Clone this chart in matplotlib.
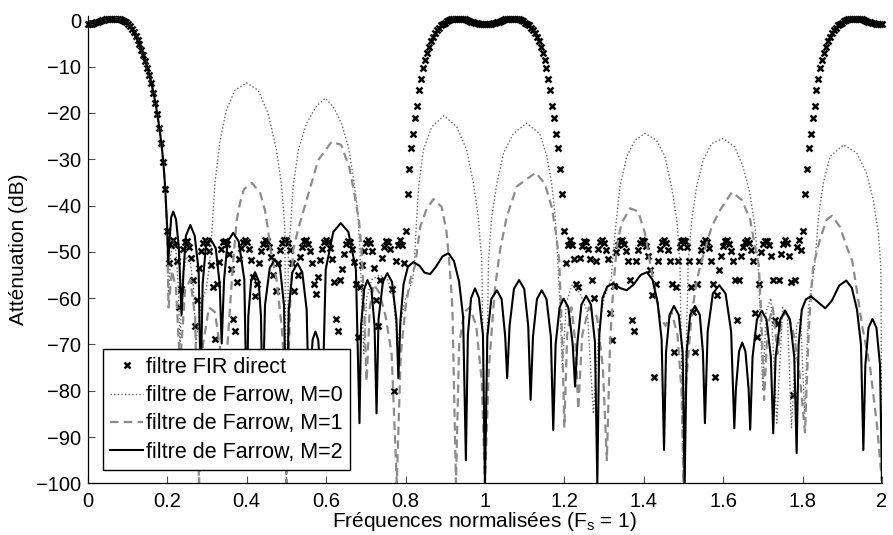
import numpy as np
import matplotlib
matplotlib.use("Agg")
import matplotlib.pyplot as plt

plt.rcParams["font.family"] = ["Liberation Sans", "DejaVu Sans"]

# ============================================================
# DONNÉES (fréquence normalisée, atténuation en dB)
# ============================================================

# filtre FIR direct : un point tous les 0.005
pas_fir = 0.005

# bande passante 0 -> 0.2
fir_bande_db = [
    -0.8, -0.75, -0.7, -0.6, -0.45, -0.3, -0.15, 0.0, 0.1, 0.2,
    0.3, 0.35, 0.4, 0.4, 0.4, 0.35, 0.25, 0.1, -0.1, -0.35,
    -0.7, -1.2, -1.8, -2.6, -3.4, -4.3, -5.2, -6.3, -7.5, -8.8,
    -10.2, -11.8, -13.6, -15.6, -17.8, -20.3, -23.2, -26.5, -30.5, -36.5,
    -45.5,
]

# bande coupée 0.205 -> 0.795
fir_coupe1_db = [
    -52.5, -48.5, -47.5, -48.6, -52.0, -62.0, -58.0, -49.4, -47.8, -47.6,
    -48.9, -51.3, -56.0, -66.0, -60.5, -53.5, -49.8, -48.0, -47.5, -48.0,
    -49.8, -52.8, -57.5, -68.9, -57.0, -52.2, -49.4, -47.9, -47.6, -48.3,
    -50.4, -53.8, -64.4, -67.2, -56.5, -51.5, -49.2, -47.9, -47.5, -47.9,
    -49.3, -51.8, -55.5, -59.5, -57.0, -52.5, -49.8, -48.2, -47.5, -47.7,
    -49.0, -51.2, -55.0, -71.6, -58.5, -52.5, -49.6, -48.1, -47.5, -47.5,
    -48.1, -49.6, -52.5, -58.5, -71.6, -55.0, -51.2, -49.0, -47.7, -47.5,
    -48.2, -49.8, -52.5, -57.0, -59.0, -55.5, -51.8, -49.3, -47.9, -47.5,
    -47.9, -49.2, -51.5, -56.5, -64.5, -67.2, -56.0, -53.8, -50.4, -48.3,
    -47.6, -47.9, -49.4, -52.2, -57.0, -68.5, -57.5, -52.8, -49.8, -48.0,
    -47.5, -48.0, -49.8, -53.5, -60.5, -66.0, -56.0, -51.3, -48.9, -47.6,
    -47.8, -49.4, -58.0, -80.0, -52.0, -48.6, -47.5, -48.5, -52.5,
]

# image autour de 1 : 0.8 -> 1.2
fir_image1_db = [
    -45.5, -37.5, -32.0, -27.5, -24.5, -21.1, -18.5, -15.1, -12.6, -10.2,
    -8.5, -7.0, -5.8, -4.5, -3.5, -2.8, -2.1, -1.6, -1.1, -0.8,
    -0.5, -0.2, 0.0, 0.2, 0.3, 0.4, 0.4, 0.4, 0.35, 0.3,
    0.2, 0.1, -0.1, -0.25, -0.4, -0.55, -0.65, -0.7, -0.75, -0.8,
    -0.8, -0.8, -0.75, -0.7, -0.65, -0.55, -0.4, -0.25, -0.1, 0.1,
    0.2, 0.3, 0.35, 0.4, 0.4, 0.4, 0.3, 0.2, 0.0, -0.2,
    -0.5, -0.8, -1.1, -1.6, -2.1, -2.8, -3.5, -4.5, -5.8, -7.0,
    -8.5, -10.2, -12.6, -15.1, -18.5, -21.1, -24.5, -27.5, -32.0, -37.5,
    -45.5,
]

# bande coupée 1.205 -> 1.795
fir_coupe2_db = [
    -52.5, -48.5, -47.5, -48.6, -51.5, -57.0, -57.5, -51.3, -48.8, -47.6,
    -47.8, -49.4, -51.5, -56.0, -60.0, -52.0, -49.4, -47.9, -47.5, -48.0,
    -49.6, -51.5, -63.3, -69.0, -57.4, -50.0, -48.6, -47.7, -47.5, -48.2,
    -49.8, -52.0, -56.0, -64.7, -67.2, -52.0, -49.6, -48.0, -47.5, -47.7,
    -48.8, -50.8, -54.0, -59.4, -77.0, -56.9, -52.0, -49.4, -47.9, -47.5,
    -48.0, -49.7, -52.0, -57.0, -71.6, -57.5, -52.0, -49.0, -47.6, -47.5,
    -47.6, -49.0, -52.0, -57.5, -63.0, -71.6, -57.0, -52.0, -49.5, -48.0,
    -47.5, -47.9, -49.2, -52.0, -57.0, -77.0, -59.4, -54.0, -50.8, -48.8,
    -47.7, -47.5, -48.2, -49.8, -52.0, -56.0, -64.7, -56.0, -51.0, -49.0,
    -47.8, -47.5, -48.0, -49.6, -52.0, -63.3, -68.5, -57.0, -50.0, -48.2,
    -47.6, -47.6, -48.5, -51.0, -56.0, -64.8, -65.6, -56.0, -50.5, -48.3,
    -47.5, -48.0, -51.0, -56.5, -81.0, -56.0, -49.0, -47.5, -49.5,
]

# image autour de 2 : 1.8 -> 2.0
fir_image2_db = [
    -45.5, -37.5, -32.0, -27.5, -24.5, -21.1, -18.5, -15.1, -12.6, -10.2,
    -8.5, -7.0, -5.8, -4.5, -3.5, -2.8, -2.1, -1.6, -1.1, -0.8,
    -0.5, -0.2, 0.0, 0.2, 0.3, 0.4, 0.4, 0.4, 0.35, 0.3,
    0.2, 0.1, -0.1, -0.25, -0.4, -0.55, -0.65, -0.7, -0.75, -0.8,
    -0.8,
]

# filtres de Farrow : même bande passante que le FIR, puis ces points (f > 0.2)
m0_f = [0.203, 0.208, 0.215, 0.222, 0.228, 0.232, 0.238, 0.248, 0.258, 0.266, 0.272, 0.280, 0.290, 0.298, 0.306,
        0.312, 0.320, 0.333, 0.349, 0.370, 0.400, 0.429, 0.454, 0.475, 0.488, 0.496, 0.500,
        0.505, 0.511, 0.517, 0.530, 0.551, 0.576, 0.598, 0.618, 0.639, 0.656, 0.668, 0.679, 0.685,
        0.690, 0.695, 0.702, 0.715, 0.735, 0.755, 0.770, 0.780, 0.790, 0.800, 0.810, 0.818, 0.822,
        0.826, 0.833, 0.845, 0.866, 0.897, 0.929, 0.954, 0.971, 0.983, 0.992, 1.000,
        1.009, 1.017, 1.030, 1.047, 1.072, 1.105, 1.138, 1.156, 1.168, 1.177, 1.182,
        1.188, 1.195, 1.205, 1.220, 1.240, 1.258, 1.273, 1.288, 1.300, 1.312, 1.318,
        1.323, 1.332, 1.340, 1.357, 1.378, 1.403, 1.432, 1.453, 1.470, 1.483, 1.491, 1.500,
        1.512, 1.521, 1.533, 1.550, 1.571, 1.600, 1.629, 1.650, 1.667, 1.680, 1.688,
        1.694, 1.700, 1.708, 1.720, 1.735, 1.750, 1.762, 1.772, 1.785, 1.795, 1.805, 1.815, 1.825,
        1.831, 1.840, 1.852, 1.869, 1.903, 1.936, 1.961, 1.978, 1.991, 1.997, 2.000]
m0_db = [-60, -51, -47.5, -50, -58, -70, -56, -51, -52, -58, -70, -64, -60, -58, -53.2,
         -46.0, -35.2, -25.9, -19.4, -15.1, -13.5, -15.1, -20.1, -28.0, -35.9, -44.6, -100,
         -50, -44, -35.9, -28.0, -22.2, -18.5, -16.8, -18.7, -22.3, -27.3, -33.5, -40.7, -49.4,
         -60, -72, -60, -56, -55, -56, -60, -70, -64, -60, -58, -56, -53,
         -46, -35.9, -28.0, -23.0, -20.6, -23.0, -28.0, -35.2, -42.4, -51.8, -100,
         -51.8, -42.4, -35.2, -28.6, -24.4, -22.2, -24.5, -29.4, -35.2, -42.4, -49.6,
         -60, -75, -61, -57, -59, -63, -85, -66, -60, -57, -56,
         -50, -42.4, -35.9, -29.4, -25.9, -24.4, -25.9, -29.4, -35.9, -43.0, -51.8, -100,
         -51.8, -43.0, -35.9, -30.1, -26.6, -25.5, -27.3, -31.6, -37.3, -44.6, -52.5,
         -66, -80, -63, -60, -87, -62, -64, -88, -66, -64, -85, -62, -56,
         -52.5, -42.4, -35.2, -29.4, -26.9, -28.6, -33.0, -38.8, -46.0, -53.0, -100]

m1_f = [0.203, 0.212, 0.222, 0.232, 0.245, 0.258, 0.270, 0.280, 0.290, 0.305, 0.320, 0.335, 0.343,
        0.350, 0.358, 0.366, 0.375, 0.383, 0.393, 0.413, 0.434, 0.446, 0.454, 0.460, 0.475, 0.488, 0.495, 0.500,
        0.505, 0.510, 0.517, 0.530, 0.551, 0.580, 0.614, 0.638, 0.659, 0.672, 0.683, 0.689, 0.695,
        0.702, 0.710, 0.720, 0.735, 0.750, 0.765, 0.778, 0.788, 0.800, 0.812,
        0.824, 0.837, 0.852, 0.870, 0.891, 0.903, 0.911, 0.918, 0.927,
        0.935, 0.948, 0.962, 0.978, 0.992, 1.000,
        1.010, 1.025, 1.038, 1.055, 1.080, 1.105, 1.128, 1.151, 1.168, 1.179, 1.187, 1.195, 1.200,
        1.207, 1.218, 1.228, 1.235, 1.245, 1.262, 1.282, 1.297, 1.307, 1.315, 1.323,
        1.332, 1.344, 1.366, 1.386, 1.403, 1.416, 1.428, 1.440, 1.455, 1.470, 1.485, 1.495, 1.500,
        1.505, 1.520, 1.532, 1.542, 1.571, 1.592, 1.622, 1.647, 1.668, 1.680, 1.690, 1.697, 1.703,
        1.712, 1.725, 1.737, 1.748, 1.762, 1.778, 1.792, 1.806, 1.815, 1.822,
        1.827, 1.844, 1.861, 1.874, 1.894, 1.911, 1.925, 1.936, 1.950, 1.970, 1.988, 2.000]
m1_db = [-62, -54, -58, -75, -58, -56, -64, -100, -70, -62, -63, -72, -88,
         -72, -62, -52, -43.1, -39.5, -36.5, -35.1, -37.3, -41.0, -45.3, -49.6, -56, -66, -75, -100,
         -75, -60, -49.6, -45.0, -38.8, -30.2, -26.2, -26.9, -32.0, -37.8, -43.5, -49.4, -60,
         -78, -62, -57, -59, -64, -72, -100, -72, -62, -56,
         -53, -44.6, -41.0, -38.6, -40.3, -45.5, -53, -62, -100,
         -70, -63, -62, -66, -78, -100,
         -75, -58, -49.6, -42.4, -35.9, -34.3, -32.9, -35.3, -40.3, -46.0, -51.8, -70, -88,
         -68, -62, -70, -84, -68, -62, -64, -75, -95, -70, -58,
         -48.9, -43.8, -40.6, -41.3, -46.0, -52.5, -58, -64, -66, -63, -68, -80, -100,
         -80, -64, -57, -53, -44.6, -41.0, -37.1, -38.8, -43.0, -48.9, -53, -66, -82,
         -66, -62, -72, -64, -63, -68, -76, -89, -68, -58,
         -53, -47.2, -43.0, -42.2, -44.6, -48.9, -52.0, -58.0, -66, -75, -88, -100]

m2_f = [0.2025, 0.206, 0.210, 0.215, 0.222, 0.229, 0.236,
        0.241, 0.247, 0.258, 0.269, 0.279, 0.284,
        0.289, 0.297, 0.308, 0.322, 0.332, 0.337,
        0.343, 0.352, 0.366, 0.380, 0.394, 0.400,
        0.404, 0.411, 0.421, 0.430, 0.436, 0.440,
        0.446, 0.458, 0.471, 0.484, 0.494, 0.500,
        0.506, 0.515, 0.528, 0.540, 0.551, 0.557,
        0.560, 0.566, 0.573, 0.580, 0.587, 0.590,
        0.599, 0.618, 0.637, 0.656, 0.675, 0.684,
        0.688, 0.696, 0.704, 0.714, 0.722, 0.727,
        0.732, 0.743, 0.754, 0.766, 0.777, 0.782,
        0.787, 0.795, 0.806, 0.820, 0.835, 0.848, 0.862, 0.876, 0.893, 0.908, 0.922, 0.935, 0.945, 0.952,
        0.957, 0.965, 0.975, 0.985, 0.995, 1.000,
        1.006, 1.016, 1.030, 1.042, 1.051, 1.056,
        1.062, 1.073, 1.086, 1.099, 1.109, 1.115,
        1.121, 1.131, 1.143, 1.155, 1.166, 1.172,
        1.178, 1.188, 1.198, 1.210, 1.221, 1.227,
        1.233, 1.243, 1.255, 1.267, 1.277, 1.283,
        1.288, 1.296, 1.308, 1.323, 1.340, 1.357, 1.375, 1.392, 1.408, 1.422, 1.435, 1.445, 1.451,
        1.456, 1.465, 1.476, 1.488, 1.498, 1.503,
        1.508, 1.517, 1.529, 1.541, 1.549, 1.554,
        1.561, 1.574, 1.590, 1.606, 1.620, 1.628,
        1.632, 1.640, 1.648, 1.656, 1.664, 1.668,
        1.674, 1.685, 1.697, 1.709, 1.720, 1.726,
        1.732, 1.744, 1.756, 1.768, 1.779, 1.785,
        1.790, 1.798, 1.808, 1.821, 1.838, 1.857, 1.874, 1.892, 1.910, 1.924, 1.937, 1.947, 1.953,
        1.958, 1.966, 1.976, 1.986, 1.995, 2.000]
m2_db = [-52.5, -47.0, -42.5, -41.3, -43.0, -49.0, -63.6,
         -54.0, -46.5, -44.2, -46.5, -54.0, -80.0,
         -57.0, -49.0, -47.1, -49.2, -57.0, -69.8,
         -56.0, -47.8, -45.9, -47.8, -56.0, -85.0,
         -64.0, -56.3, -54.4, -56.3, -64.0, -85.0,
         -61.6, -53.5, -51.6, -53.5, -61.6, -90.0,
         -62.5, -54.4, -52.5, -54.4, -62.5, -85.0,
         -77.0, -69.0, -67.2, -69.0, -77.0, -85.0,
         -53.8, -45.7, -43.8, -45.7, -53.8, -87.0,
         -66.0, -58.0, -56.1, -58.0, -66.0, -84.9,
         -64.6, -56.5, -54.6, -56.5, -64.6, -77.3,
         -65.0, -57.0, -53.2, -52.2, -53.0, -54.5, -54.8, -53.3, -51.0, -50.3, -52.0, -56.5, -64.0, -95.0,
         -68.0, -60.0, -57.9, -60.0, -68.0, -100.0,
         -68.3, -60.2, -58.3, -60.2, -68.3, -77.3,
         -66.0, -58.0, -56.1, -58.0, -66.0, -82.0,
         -68.3, -60.2, -58.3, -60.2, -68.3, -88.5,
         -70.0, -62.0, -60.1, -62.0, -70.0, -79.1,
         -69.5, -61.4, -59.5, -61.4, -69.5, -100.0,
         -68.0, -60.0, -57.5, -56.8, -57.8, -58.3, -57.0, -55.0, -54.4, -56.0, -61.0, -69.0, -92.8,
         -71.7, -63.6, -61.7, -63.6, -71.7, -100.0,
         -71.7, -63.6, -61.7, -63.6, -71.7, -87.0,
         -67.2, -59.0, -57.2, -59.0, -67.2, -88.1,
         -79.6, -71.5, -69.6, -71.5, -79.6, -88.4,
         -72.7, -64.6, -62.7, -64.6, -72.7, -89.2,
         -72.7, -64.6, -62.7, -64.6, -72.7, -93.5,
         -70.0, -62.5, -60.3, -59.6, -60.8, -62.2, -60.5, -57.3, -56.2, -57.8, -62.5, -70.0, -92.8,
         -74.5, -66.4, -64.5, -66.4, -74.5, -100.0]

etiquettes_x = ["0", "0.2", "0.4", "0.6", "0.8", "1", "1.2", "1.4", "1.6", "1.8", "2"]
etiquettes_legende = [
    "filtre FIR direct",
    "filtre de Farrow, M=0",
    "filtre de Farrow, M=1",
    "filtre de Farrow, M=2",
]

# ============================================================
# ASSEMBLAGE
# ============================================================

segments_fir = [
    (0.0, fir_bande_db),
    (0.205, fir_coupe1_db),
    (0.8, fir_image1_db),
    (1.205, fir_coupe2_db),
    (1.8, fir_image2_db),
]
fir_f = np.concatenate([debut + pas_fir * np.arange(len(v)) for debut, v in segments_fir])
fir_db = np.concatenate([np.array(v, dtype=float) for _, v in segments_fir])

bande_f = fir_f[:len(fir_bande_db)]
bande_db = np.array(fir_bande_db)


def courbe_farrow(f, db):
    return np.concatenate([bande_f, f]), np.concatenate([bande_db, db])


# ============================================================
# TRACÉ
# ============================================================

fig = plt.figure(figsize=(8.93, 5.35), dpi=100)
ax = fig.add_axes([0.0984, 0.0966, 0.8893, 0.874])

ax.plot(fir_f, fir_db, linestyle="none", marker="x", markersize=5,
        markeredgewidth=1.8, color="black", clip_on=False,
        label=etiquettes_legende[0])

x0, y0 = courbe_farrow(m0_f, m0_db)
ax.plot(x0, y0, color="0.4", linewidth=1.0, dashes=(1, 1.6),
        label=etiquettes_legende[1])

x1, y1 = courbe_farrow(m1_f, m1_db)
ax.plot(x1, y1, color="0.55", linewidth=1.6, dashes=(3.8, 2.4),
        label=etiquettes_legende[2])

x2, y2 = courbe_farrow(m2_f, m2_db)
ax.plot(x2, y2, color="black", linewidth=1.5, label=etiquettes_legende[3])

ax.set_xlim(0, 2)
ax.set_ylim(-100, 1)
ax.set_xticks(np.arange(0, 2.01, 0.2))
ax.set_xticklabels(etiquettes_x)
ax.set_yticks(np.arange(-100, 1, 10))

for cote in ["top", "right"]:
    ax.spines[cote].set_visible(False)
for cote in ["left", "bottom"]:
    ax.spines[cote].set_linewidth(0.9)

ax.tick_params(axis="both", direction="in", length=5, width=0.8,
               color="0.3", labelsize=14.5)
ax.tick_params(axis="x", pad=6)
ax.tick_params(axis="y", pad=5)

ax.set_xlabel("Fréquences normalisées (F$_\\mathregular{s}$ = 1)", fontsize=15)
ax.xaxis.set_label_coords(0.5, -0.058)
ax.set_ylabel("Atténuation (dB)", fontsize=15)
ax.yaxis.set_label_coords(-0.075, 0.5)

leg = ax.legend(loc="lower left", bbox_to_anchor=(0.019, 0.028),
                borderaxespad=0, fontsize=15.5, numpoints=1,
                handlelength=1.5, handletextpad=0.15, labelspacing=0.34,
                borderpad=0.35, fancybox=False, framealpha=1)
leg.get_frame().set_edgecolor("black")
leg.get_frame().set_linewidth(1.0)

fig.savefig("out.png", dpi=100)
